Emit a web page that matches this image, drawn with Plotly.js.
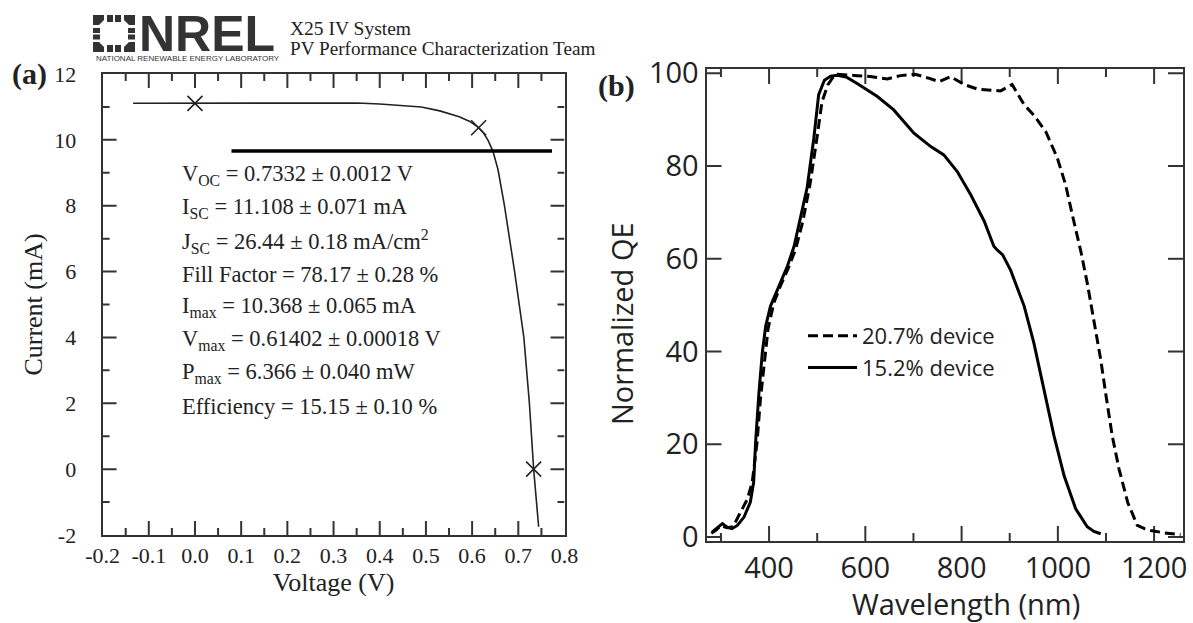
<!DOCTYPE html>
<html><head><meta charset="utf-8">
<script src="https://cdn.plot.ly/plotly-3.0.1.min.js"></script>
<style>html,body{margin:0;padding:0;background:#fff;} #chart{width:1193px;height:623px;}</style>
</head><body><div id="chart"></div>
<script>
// ---------- Panel (a): I-V curve ----------
const ivVoltage = [-0.134, -0.1, -0.05, 0.0, 0.1, 0.2, 0.3, 0.35, 0.4, 0.45, 0.49, 0.53, 0.572, 0.595, 0.614, 0.625, 0.634, 0.645, 0.656, 0.670, 0.692, 0.712, 0.724, 0.7332, 0.744];
const ivCurrent = [11.11, 11.11, 11.11, 11.108, 11.12, 11.13, 11.13, 11.12, 11.09, 11.05, 11.0, 10.88, 10.7, 10.56, 10.37, 10.2, 10.0, 9.66, 9.1, 8.0, 6.0, 4.0, 2.0, 0.0, -1.75];
const keyPointVoltage = [0.0, 0.61402, 0.7332];
const keyPointCurrent = [11.108, 10.368, 0.0];
const tableRuleVoltage = [0.079, 0.773];
const tableRuleCurrent = [9.66, 9.66];
const statLines = [
  "V<sub>OC</sub> = 0.7332 ± 0.0012 V",
  "I<sub>SC</sub> = 11.108 ± 0.071 mA",
  "J<sub>SC</sub> = 26.44 ± 0.18 mA/cm<sup>2</sup>",
  "Fill Factor = 78.17 ± 0.28 %",
  "I<sub>max</sub> = 10.368 ± 0.065 mA",
  "V<sub>max</sub> = 0.61402 ± 0.00018 V",
  "P<sub>max</sub> = 6.366 ± 0.040 mW",
  "Efficiency = 15.15 ± 0.10 %"
];
const voltTickVals = [-0.2, -0.1, 0.0, 0.1, 0.2, 0.3, 0.4, 0.5, 0.6, 0.7, 0.8];
const voltTickText = ["-0.2", "-0.1", "0.0", "0.1", "0.2", "0.3", "0.4", "0.5", "0.6", "0.7", "0.8"];
const voltMinorTickVals = [-0.15, -0.05, 0.05, 0.15, 0.25, 0.35, 0.45, 0.55, 0.65, 0.75];
const currTickVals = [-2, 0, 2, 4, 6, 8, 10, 12];
const currTickText = ["-2", "0", "2", "4", "6", "8", "10", "12"];
const currMinorTickVals = [-1, 1, 3, 5, 7, 9, 11];

// ---------- Panel (b): normalized QE ----------
const seriesNames = ["20.7% device", "15.2% device"];
const wavelengthDashed = [280, 290, 300, 312, 325, 341, 355, 365, 375, 382, 390, 398, 410, 425, 440, 455, 470, 485, 498, 510, 522, 535, 542, 560, 583, 610, 646, 673, 704, 730, 753, 777, 805, 833, 860, 881, 905, 930, 950, 975, 999, 1016, 1030, 1048, 1061, 1075, 1089, 1100, 1113, 1127, 1145, 1165, 1180, 1193, 1221, 1255];
const qeDashed = [0.8, 1.5, 2.5, 2.0, 2.2, 5.4, 8.2, 11.8, 20.4, 29.7, 38, 45, 50.5, 54.5, 58, 62, 68, 76, 85, 93.9, 97.5, 99.5, 99.8, 99.6, 99.5, 99.3, 98.8, 99.5, 99.8, 99.0, 98.2, 99.3, 97.6, 96.6, 96.4, 96.2, 97.6, 93.2, 91, 87.4, 81.7, 76, 69.5, 61.5, 54.8, 46.2, 38.3, 30.5, 21.8, 14.7, 7.5, 2.5, 1.8, 1.4, 0.9, 0.5];
const wavelengthSolid = [282, 292, 303, 313, 323, 334, 348, 361, 368, 372, 375, 379, 386, 393, 403, 417, 438, 452, 465, 479, 493, 503, 515, 528, 542, 560, 583, 625, 659, 701, 736, 763, 791, 819, 847, 867, 875, 885, 902, 930, 950, 971, 992, 1013, 1037, 1061, 1075, 1089];
const qeSolid = [1.1, 2.0, 2.9, 2.1, 1.8, 2.5, 4.3, 7.5, 11.8, 20.4, 26.2, 31.2, 39.8, 45.5, 49.8, 53.4, 58.4, 62.7, 68.5, 75.3, 86, 95.4, 98.5, 99.4, 99.6, 99.2, 97.8, 95, 92.1, 87.1, 84.2, 82.4, 78.8, 73.8, 68.1, 62.7, 61.8, 60.9, 57.5, 49.8, 41.9, 31.9, 21.8, 13.2, 6.1, 2.2, 1.2, 0.7];
const qeTickVals = [0, 20, 40, 60, 80, 100];
const wlTickVals = [400, 600, 800, 1000, 1200];
const wlMinorTickVals = [300, 500, 700, 900, 1100];

// ---------- layout helpers ----------
const W = 1193, H = 623;
const px = x => x / W;
const py = y => 1 - y / H;
const serif = "Liberation Serif, Times New Roman, serif";
const sans = "Open Sans, Noto Sans, sans-serif";
const ink = "#222";
const axisInk = "#333";

// frame geometry (pixels) and ranges
const frameA = {x0: 102.6, x1: 564.5, y0: 74, y1: 535, xr: [-0.2, 0.8], yr: [-2, 12]};
const frameB = {x0: 706.5, x1: 1183, y0: 69, y1: 541, xr: [270, 1260], yr: [-0.86, 100.93]};

// inward tick marks on all four sides, built from the tick value arrays
function tickMarks(f, xMajor, xMinor, xLen, xMinLen, yMajor, yMinor, yLen, yMinLen) {
  const acc = {x: [], y: []};
  const yUnit = (f.yr[1] - f.yr[0]) / (f.y1 - f.y0);
  const xUnit = (f.xr[1] - f.xr[0]) / (f.x1 - f.x0);
  const addX = (vals, len) => vals.forEach(v => {
    const L = len * yUnit;
    acc.x.push(v, v, null, v, v, null);
    acc.y.push(f.yr[0], f.yr[0] + L, null, f.yr[1], f.yr[1] - L, null);
  });
  const addY = (vals, len) => vals.forEach(v => {
    const L = len * xUnit;
    acc.x.push(f.xr[0], f.xr[0] + L, null, f.xr[1], f.xr[1] - L, null);
    acc.y.push(v, v, null, v, v, null);
  });
  addX(xMajor, xLen); addX(xMinor, xMinLen);
  addY(yMajor, yLen); addY(yMinor, yMinLen);
  return acc;
}
const ticksA = tickMarks(frameA, voltTickVals.slice(1, -1), voltMinorTickVals, 14, 7, currTickVals.slice(1, -1), currMinorTickVals, 14, 7);
const ticksB = tickMarks(frameB, wlTickVals, wlMinorTickVals, 15, 8, qeTickVals, [], 15, 0);

const traces = [
  {x: ticksA.x, y: ticksA.y, xaxis: "x", yaxis: "y", mode: "lines", line: {color: axisInk, width: 2}, showlegend: false, hoverinfo: "skip"},
  {x: ticksB.x, y: ticksB.y, xaxis: "x2", yaxis: "y2", mode: "lines", line: {color: axisInk, width: 2}, showlegend: false, hoverinfo: "skip"},
  {x: ivVoltage, y: ivCurrent, xaxis: "x", yaxis: "y", mode: "lines", line: {color: ink, width: 1.6}, showlegend: false, hoverinfo: "skip"},
  {x: keyPointVoltage, y: keyPointCurrent, xaxis: "x", yaxis: "y", mode: "markers", marker: {symbol: "x-thin-open", size: 15, color: ink, line: {color: ink, width: 1.6}}, showlegend: false},
  {x: tableRuleVoltage, y: tableRuleCurrent, xaxis: "x", yaxis: "y", mode: "lines", line: {color: "#000", width: 3.5}, showlegend: false, hoverinfo: "skip"},
  {x: wavelengthDashed, y: qeDashed, xaxis: "x2", yaxis: "y2", mode: "lines", name: seriesNames[0], line: {color: "#000", width: 3, dash: "10px,5px"}},
  {x: wavelengthSolid, y: qeSolid, xaxis: "x2", yaxis: "y2", mode: "lines", name: seriesNames[1], line: {color: "#000", width: 3}}
];

const annotations = statLines.map((t, k) => ({
  text: t, xref: "x", yref: "y", x: -0.0327, y: 8.93 - k * 1.002,
  xanchor: "left", yanchor: "middle", showarrow: false,
  font: {family: serif, size: 22.5, color: ink}
}));
annotations.push(
  {text: "<b>(a)</b>", xref: "paper", yref: "paper", x: px(10), y: py(74), xanchor: "left", yanchor: "middle", showarrow: false, font: {family: serif, size: 30, color: ink}},
  {text: "<b>(b)</b>", xref: "paper", yref: "paper", x: px(596), y: py(86), xanchor: "left", yanchor: "middle", showarrow: false, font: {family: serif, size: 30, color: ink}},
  {text: "X25 IV System", xref: "paper", yref: "paper", x: px(288), y: py(28), xanchor: "left", yanchor: "middle", showarrow: false, font: {family: serif, size: 19.5, color: ink}},
  {text: "PV Performance Characterization Team", xref: "paper", yref: "paper", x: px(288), y: py(49), xanchor: "left", yanchor: "middle", showarrow: false, font: {family: serif, size: 19.2, color: ink}},
  {text: "<b>NREL</b>", xref: "paper", yref: "paper", x: px(137), y: py(34), xanchor: "left", yanchor: "middle", showarrow: false, font: {family: "Liberation Sans, Arial, sans-serif", size: 50, color: "#333"}},
  {text: "NATIONAL RENEWABLE ENERGY LABORATORY", xref: "paper", yref: "paper", x: px(94), y: py(59), xanchor: "left", yanchor: "middle", showarrow: false, font: {family: "Liberation Sans, Arial, sans-serif", size: 8, color: "#333"}},
  {text: "Wavelength (nm)", xref: "paper", yref: "paper", x: px(966), y: py(603), xanchor: "center", yanchor: "middle", showarrow: false, font: {family: sans, size: 29, color: ink}},
  {text: "Normalized QE", xref: "paper", yref: "paper", x: px(621), y: py(324), xanchor: "center", yanchor: "middle", textangle: -90, showarrow: false, font: {family: sans, size: 29, color: ink}}
);

// NREL logo mark (decorative)
function poly(pts) { return "M" + pts.map(p => px(p[0]) + "," + py(p[1])).join("L") + "Z"; }
const logoParts = [
  [[93,15],[104,15],[104,20],[99,25],[93,25]],
  [[124,15],[135,15],[135,25],[129,25],[124,20]],
  [[93,42],[99,42],[104,47],[104,52],[93,52]],
  [[129,42],[135,42],[135,52],[124,52],[124,47]],
  [[107,15],[113,15],[113,22],[107,22]],
  [[115,15],[121,15],[121,22],[115,22]],
  [[107,45],[113,45],[113,52],[107,52]],
  [[115,45],[121,45],[121,52],[115,52]],
  [[93,28],[100,28],[100,33],[93,33]],
  [[93,34.5],[100,34.5],[100,39.5],[93,39.5]],
  [[128,28],[135,28],[135,33],[128,33]],
  [[128,34.5],[135,34.5],[135,39.5],[128,39.5]]
];
const shapes = logoParts.map(p => ({type: "path", xref: "paper", yref: "paper", path: poly(p), fillcolor: "#333", line: {width: 0}}));

const axBase = () => ({showgrid: false, zeroline: false, showline: true, linecolor: axisInk, linewidth: 2, mirror: true, ticks: ""});

const layout = {
  width: W, height: H, margin: {l: 0, r: 0, t: 0, b: 0},
  paper_bgcolor: "#fff", plot_bgcolor: "#fff",
  font: {family: serif, size: 22, color: ink},
  showlegend: true,
  legend: {x: px(803), y: py(315), xanchor: "left", yanchor: "top", bgcolor: "rgba(0,0,0,0)", font: {family: sans, size: 22, color: ink}, itemwidth: 49, tracegroupgap: 0},
  xaxis: Object.assign(axBase(), {domain: [px(frameA.x0), px(frameA.x1)], range: frameA.xr, anchor: "y",
    tickvals: voltTickVals, ticktext: voltTickText,
    title: {text: "Voltage (V)", standoff: 4}}),
  yaxis: Object.assign(axBase(), {domain: [py(frameA.y1), py(frameA.y0)], range: frameA.yr, anchor: "x",
    tickvals: currTickVals, ticktext: currTickText, ticklabelstandoff: 20,
    title: {text: "Current (mA)", standoff: 4}}),
  xaxis2: Object.assign(axBase(), {domain: [px(frameB.x0), px(frameB.x1)], range: frameB.xr, anchor: "y2",
    tickvals: wlTickVals,
    tickfont: {family: sans, size: 29, color: ink}}),
  yaxis2: Object.assign(axBase(), {domain: [py(frameB.y1), py(frameB.y0)], range: frameB.yr, anchor: "x2",
    tickvals: qeTickVals,
    tickfont: {family: sans, size: 29, color: ink}}),
  annotations: annotations,
  shapes: shapes
};

Plotly.newPlot("chart", traces, layout, {displayModeBar: false});
</script>
</body></html>
